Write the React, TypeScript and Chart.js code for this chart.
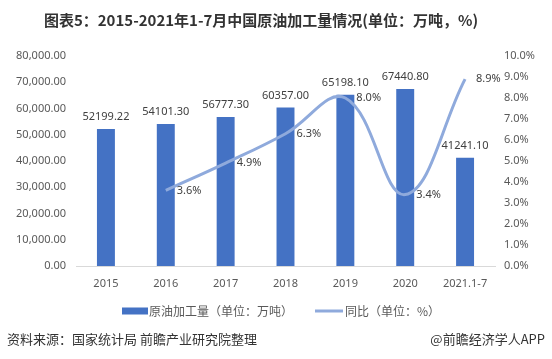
import React, { useEffect, useRef } from "react";
import { Chart, registerables } from "chart.js";
Chart.register(...registerables);

const categories = ["2015", "2016", "2017", "2018", "2019", "2020", "2021.1-7"];
const output = [52199.22, 54101.3, 56777.3, 60357.0, 65198.1, 67440.8, 41241.1];
const growth: (number | null)[] = [null, 3.6, 4.9, 6.3, 8.0, 3.4, 8.9];
const titleText = "图表5：2015-2021年1-7月中国原油加工量情况(单位：万吨，%)";
const barLabel = "原油加工量（单位：万吨）";
const lineLabel = "同比（单位：%）";
const sourceText = "资料来源：国家统计局 前瞻产业研究院整理";
const creditText = "@前瞻经济学人APP";

const BAR_COLOR = "#4472C4";
const LINE_COLOR = "#8FAADC";
const FONT = "'Noto Sans', 'Noto Sans CJK SC', sans-serif";
const CJK = "'Noto Sans CJK SC', 'Noto Sans', sans-serif";

const decorPlugin = {
  id: "decor",
  afterDatasetsDraw(chart: any) {
    const ctx = chart.ctx;
    ctx.save();
    ctx.font = `11px ${FONT}`;
    ctx.fillStyle = "#404040";
    const barMeta = chart.getDatasetMeta(1);
    barMeta.data.forEach((el: any, i: number) => {
      ctx.textAlign = "center";
      ctx.textBaseline = "middle";
      ctx.fillText(output[i].toFixed(2), el.x, el.y - 12);
    });
    const lineMeta = chart.getDatasetMeta(0);
    lineMeta.data.forEach((el: any, i: number) => {
      const v = growth[i];
      if (v == null) return;
      ctx.textAlign = "left";
      ctx.textBaseline = "middle";
      ctx.fillText(v.toFixed(1) + "%", el.x + 11, el.y);
    });
    ctx.restore();
  },
  afterDraw(chart: any) {
    const ctx = chart.ctx;
    ctx.save();
    // title
    ctx.font = `bold 15px ${CJK}`;
    ctx.fillStyle = "#333333";
    ctx.textAlign = "center";
    ctx.textBaseline = "middle";
    ctx.fillText(titleText, 261, 20);
    // legend
    const ly = 311;
    ctx.fillStyle = BAR_COLOR;
    ctx.fillRect(122, ly - 3.5, 26, 7);
    ctx.font = `12px ${CJK}`;
    ctx.fillStyle = "#595959";
    ctx.textAlign = "left";
    ctx.fillText(barLabel, 149, ly);
    ctx.strokeStyle = LINE_COLOR;
    ctx.lineWidth = 3;
    ctx.beginPath();
    ctx.moveTo(315, ly);
    ctx.lineTo(343, ly);
    ctx.stroke();
    ctx.fillText(lineLabel, 345, ly);
    // footer
    ctx.fillStyle = "#333333";
    ctx.font = `13px ${CJK}`;
    ctx.textAlign = "left";
    ctx.fillText(sourceText, 7, 339);
    ctx.textAlign = "right";
    ctx.fillText(creditText, 545, 339);
    ctx.restore();
  },
};

export default function App() {
  const ref = useRef<HTMLCanvasElement | null>(null);
  useEffect(() => {
    document.body.style.margin = "0";
    const canvas = ref.current!;
    const chart = new Chart(canvas, {
      type: "bar",
      data: {
        labels: categories,
        datasets: [
          {
            type: "line",
            label: lineLabel,
            data: growth,
            yAxisID: "y1",
            borderColor: LINE_COLOR,
            backgroundColor: LINE_COLOR,
            borderWidth: 3,
            pointRadius: 0,
            tension: 0.4,
            order: 0,
          } as any,
          {
            type: "bar",
            label: barLabel,
            data: output,
            yAxisID: "y",
            backgroundColor: BAR_COLOR,
            categoryPercentage: 1,
            barPercentage: 0.3,
            order: 1,
          },
        ],
      },
      options: {
        responsive: false,
        animation: false,
        devicePixelRatio: 1,
        layout: { padding: { top: 56, bottom: 0, left: 0, right: 0 } },
        plugins: {
          legend: { display: false },
          title: { display: false },
          tooltip: { enabled: false },
        },
        scales: {
          x: {
            offset: true,
            grid: { display: false, drawTicks: false },
            border: { display: true, color: "#D9D9D9", width: 1 },
            ticks: { color: "#595959", font: { size: 11, family: FONT }, padding: 11, maxRotation: 0 },
            afterFit: (s: any) => { s.height = 93; },
          },
          y: {
            position: "left",
            min: 0,
            max: 80000,
            grid: { display: false, drawTicks: false },
            border: { display: false },
            ticks: {
              stepSize: 10000,
              color: "#595959",
              font: { size: 11, family: FONT },
              padding: 10,
              callback: (v: any) =>
                Number(v).toLocaleString("en-US", { minimumFractionDigits: 2, maximumFractionDigits: 2 }),
            },
            afterFit: (s: any) => { s.width = 76; },
          },
          y1: {
            position: "right",
            min: 0,
            max: 10,
            grid: { display: false, drawTicks: false },
            border: { display: false },
            ticks: {
              stepSize: 1,
              color: "#595959",
              font: { size: 11, family: FONT },
              padding: 9,
              callback: (v: any) => Number(v).toFixed(1) + "%",
            },
            afterFit: (s: any) => { s.width = 57; },
          },
        },
      },
      plugins: [decorPlugin],
    });
    return () => chart.destroy();
  }, []);
  return (
    <div style={{ width: 552, height: 359, background: "#fff" }}>
      <canvas ref={ref} width={552} height={359} style={{ display: "block" }} />
    </div>
  );
}
